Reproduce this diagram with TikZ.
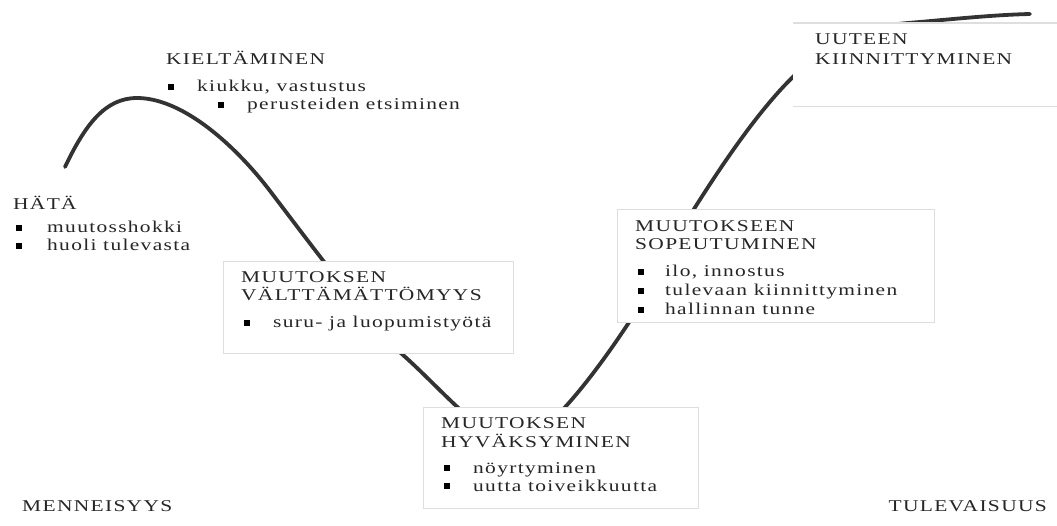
\documentclass[tikz,border=0pt]{standalone}
\usepackage{fontspec}
\setmainfont{Liberation Serif}[FakeStretch=1.3,LetterSpace=8]
\begin{document}
\begin{tikzpicture}[x=1pt,y=-1pt,
  txt/.style={anchor=base west,inner sep=0pt,text=black!85,font=\fontsize{16.5}{19}\selectfont},
  txtr/.style={txt,anchor=base east},
  sq/.style={fill=black,inner sep=0pt,minimum size=6pt,draw=none},
  panel/.style={anchor=north west,fill=white,draw=black!13,line width=1.1pt,inner sep=0pt},
  curveline/.style={draw=black!80,line width=3.8pt,line cap=round}]
\useasboundingbox[fill=white] (0,0) rectangle (1057,526);

% the change curve
\draw[curveline] (65,167)
  .. controls (85,125) and (105,98) .. (137,98)
  .. controls (180,98) and (230,140) .. (267,187)
  .. controls (300,230) and (370,325) .. (403,355)
  .. controls (445,392) and (495,455) .. (525,440)
  .. controls (565,425) and (650,300) .. (694,209)
  .. controls (730,152) and (765,103) .. (797,73)
  .. controls (835,37) and (870,26) .. (908,23)
  .. controls (950,19.5) and (990,15) .. (1030,14);

% panels
\node[panel,minimum width=290pt,minimum height=92pt] (b1) at (223,261) {};
\node[panel,minimum width=275pt,minimum height=101pt] (b2) at (423,407) {};
\node[panel,minimum width=317pt,minimum height=113pt] (b3) at (617,209) {};
\node[anchor=north west,fill=white,inner sep=0pt,minimum width=264pt,minimum height=83pt] (b4) at (793,23) {};
\draw[draw=black!13,line width=1.1pt] (b4.north west) -- (b4.north east);
\draw[draw=black!13,line width=1.1pt] (b4.south west) -- (b4.south east);

% KIELTAMINEN
\node[txt] (k0) at (166,65) {KIELTÄMINEN};
\node[sq] (k1b) at (171,87) {};
\node[txt] (k1) at (197,92) {kiukku, vastustus};
\node[sq] (k2b) at (221,105) {};
\node[txt] (k2) at (247,110) {perusteiden etsiminen};

% HATA
\node[txt] (h0) at (13,210) {HÄTÄ};
\node[sq] (h1b) at (19,228) {};
\node[txt] (h1) at (47,233) {muutosshokki};
\node[sq] (h2b) at (19,246) {};
\node[txt] (h2) at (47,251) {huoli tulevasta};

% box 1
\node[txt] (v0) at (241,283) {MUUTOKSEN};
\node[txt] (v1) at (241,301) {VÄLTTÄMÄTTÖMYYS};
\node[sq] (v2b) at (246.5,323.5) {};
\node[txt] (v2) at (273,328) {suru- ja luopumistyötä};

% box 2
\node[txt] (y0) at (441,428) {MUUTOKSEN};
\node[txt] (y1) at (441,447) {HYVÄKSYMINEN};
\node[sq] (y2b) at (446.5,468) {};
\node[txt] (y2) at (473,473) {nöyrtyminen};
\node[sq] (y3b) at (446.5,486) {};
\node[txt] (y3) at (473,491) {uutta toiveikkuutta};

% box 3
\node[txt] (s0) at (635,232) {MUUTOKSEEN};
\node[txt] (s1) at (635,250) {SOPEUTUMINEN};
\node[sq] (s2b) at (641,272) {};
\node[txt] (s2) at (665,277) {ilo, innostus};
\node[sq] (s3b) at (641,291) {};
\node[txt] (s3) at (665,296) {tulevaan kiinnittyminen};
\node[sq] (s4b) at (641,310) {};
\node[txt] (s4) at (665,315) {hallinnan tunne};

% box 4
\node[txt] (u0) at (815,45) {UUTEEN};
\node[txt] (u1) at (815,65) {KIINNITTYMINEN};

% time axis labels
\node[txt] (past) at (22,511) {MENNEISYYS};
\node[txtr] (future) at (1047,511) {TULEVAISUUS};
\end{tikzpicture}
\end{document}
